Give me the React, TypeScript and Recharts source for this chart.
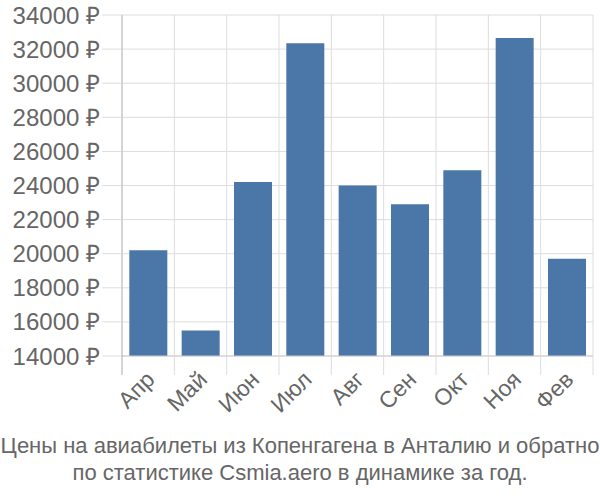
import { BarChart, Bar, XAxis, YAxis, CartesianGrid } from "recharts";

const months = ["Апр", "Май", "Июн", "Июл", "Авг", "Сен", "Окт", "Ноя", "Фев"];
const prices = [20200, 15500, 24200, 32350, 24000, 22900, 24900, 32650, 19700];
const yTicks = [14000, 16000, 18000, 20000, 22000, 24000, 26000, 28000, 30000, 32000, 34000];

const data = months.map((m, i) => ({ month: m, price: prices[i] }));

const FONT = "'Liberation Sans', Arial, sans-serif";
const TEXT = "#666";

function MonthTick(props: any) {
  const { x, y, payload, band } = props;
  const left = x - band / 2;
  return (
    <g>
      <line x1={left} y1={y - 8} x2={left} y2={y + 11} stroke={payload.index === 0 ? "#aaa" : "#ddd"} />
      {payload.index === months.length - 1 && (
        <line x1={left + band} y1={y - 8} x2={left + band} y2={y + 11} stroke="#ddd" />
      )}
      <text
        x={x + 8}
        y={y + 17}
        textAnchor="end"
        transform={`rotate(-45, ${x + 8}, ${y + 17})`}
        fill={TEXT}
        fontSize={23}
        fontFamily={FONT}
      >
        {payload.value}
      </text>
    </g>
  );
}

export default function App() {
  const width = 600;
  const height = 420;
  const margin = { top: 15, right: 7, left: 0, bottom: 0 };
  const yWidth = 122;
  const plotWidth = width - margin.left - margin.right - yWidth;
  const band = plotWidth / months.length;

  return (
    <div style={{ position: "absolute", left: 0, top: 0, width: 600, height: 500, background: "#fff" }}>
      <BarChart width={width} height={height} data={data} margin={margin} barCategoryGap="14%">
        <CartesianGrid
          stroke="#ddd"
          verticalCoordinatesGenerator={({ offset }: any) =>
            months.map((_, i) => offset.left + (i + 1) * (offset.width / months.length))
          }
        />
        <XAxis
          dataKey="month"
          height={64}
          interval={0}
          stroke="#ccc"
          tickLine={false}
          tick={<MonthTick band={band} />}
        />
        <YAxis
          width={yWidth}
          domain={[14000, 34000]}
          ticks={yTicks}
          interval={0}
          allowDataOverflow
          stroke="#aaa"
          tickLine={{ stroke: "#ddd" }}
          tickSize={20}
          tickMargin={2}
          tickFormatter={(v: number) => `${v} ₽`}
          tick={{ fill: TEXT, fontSize: 24, fontFamily: FONT }}
        />
        <Bar dataKey="price" fill="#4a76a8" isAnimationActive={false} />
      </BarChart>
      <div
        style={{
          position: "absolute",
          top: 432,
          left: 0,
          width: 600,
          textAlign: "center",
          fontFamily: FONT,
          fontSize: 22,
          lineHeight: "27px",
          color: TEXT,
          whiteSpace: "nowrap",
        }}
      >
        Цены на авиабилеты из Копенгагена в Анталию и обратно
        <br />
        по статистике Csmia.aero в динамике за год.
      </div>
    </div>
  );
}
